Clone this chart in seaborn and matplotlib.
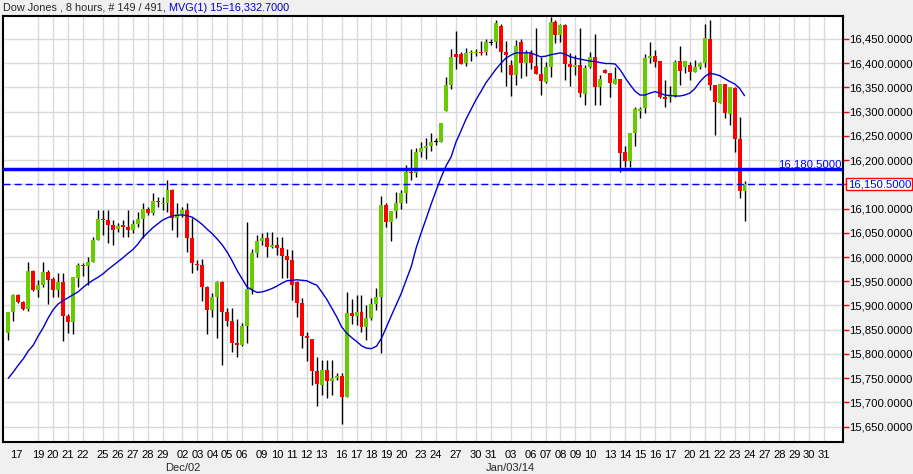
import numpy as np
import pandas as pd
import seaborn as sns
import matplotlib
matplotlib.use("Agg")
import matplotlib.pyplot as plt
from matplotlib.ticker import FuncFormatter
from matplotlib.transforms import blended_transform_factory

# Dow Jones 8-hour candles (149 bars)
opens = [15843, 15887, 15922, 15908, 15893, 15971, 15932, 15942, 15970, 15954,
         15932, 15949, 15879, 15865, 15957, 15983, 15981, 15990, 16036, 16078,
         16076, 16066, 16057, 16066, 16062, 16056, 16069, 16079, 16098, 16091,
         16115, 16109, 16112, 16138, 16080, 16088, 16097, 16040, 15985, 15984,
         15938, 15891, 15918, 15948, 15887, 15867, 15823, 15819, 15858, 15935,
         16009, 16034, 16040, 16021, 16025, 16019, 16003, 15994, 15949, 15906,
         15837, 15830, 15764, 15736, 15767, 15745, 15751, 15755, 15711, 15884,
         15878, 15887, 15856, 15875, 15904, 15917, 16107, 16073, 16095, 16112,
         16131, 16176, 16174, 16217, 16224, 16229, 16238, 16238, 16301, 16355,
         16418, 16418, 16401, 16420, 16420, 16423, 16422, 16442, 16443, 16477,
         16423, 16396, 16375, 16443, 16401, 16420, 16394, 16377, 16361, 16392,
         16485, 16458, 16478, 16399, 16392, 16396, 16337, 16391, 16412, 16350,
         16386, 16380, 16357, 16367, 16217, 16199, 16256, 16302, 16308, 16411,
         16415, 16405, 16329, 16329, 16335, 16404, 16392, 16396, 16382, 16391,
         16401, 16450, 16355, 16318, 16357, 16295, 16348, 16243, 16137]
highs = [15887, 15924, 15924, 15910, 15990, 15973, 15953, 15989, 15973, 15958,
         15968, 15968, 15882, 15958, 15987, 15987, 15999, 16042, 16097, 16097,
         16097, 16076, 16070, 16076, 16096, 16076, 16093, 16111, 16104, 16131,
         16124, 16124, 16159, 16140, 16111, 16103, 16111, 16080, 15994, 15995,
         15940, 15925, 15950, 15950, 15895, 15895, 15872, 15863, 16073, 16016,
         16045, 16049, 16051, 16051, 16042, 16042, 16017, 16014, 15950, 15916,
         15846, 15830, 15793, 15788, 15788, 15788, 15760, 15760, 15928, 15913,
         15922, 15922, 15901, 15915, 15937, 16126, 16111, 16095, 16135, 16138,
         16190, 16222, 16224, 16238, 16245, 16255, 16245, 16276, 16372, 16428,
         16466, 16423, 16430, 16427, 16429, 16445, 16449, 16449, 16489, 16480,
         16445, 16406, 16447, 16449, 16427, 16427, 16472, 16413, 16403, 16495,
         16489, 16480, 16480, 16420, 16417, 16472, 16396, 16423, 16460, 16375,
         16388, 16380, 16391, 16368, 16228, 16256, 16310, 16310, 16419, 16444,
         16427, 16405, 16366, 16353, 16406, 16436, 16404, 16403, 16406, 16403,
         16480, 16489, 16355, 16357, 16357, 16350, 16350, 16288, 16157]
lows = [15829, 15867, 15906, 15891, 15889, 15930, 15917, 15939, 15903, 15918,
        15918, 15827, 15844, 15841, 15939, 15961, 15942, 15990, 16036, 16045,
        16029, 16025, 16052, 16042, 16042, 16050, 16062, 16039, 16087, 16087,
        16104, 16097, 16093, 16056, 16042, 16083, 16011, 15966, 15973, 15910,
        15841, 15877, 15832, 15777, 15858, 15805, 15794, 15816, 15823, 15924,
        15999, 16025, 15999, 16019, 16004, 15956, 15956, 15911, 15876, 15812,
        15786, 15736, 15693, 15715, 15709, 15715, 15746, 15656, 15711, 15861,
        15860, 15846, 15829, 15870, 15891, 15803, 16062, 16032, 16080, 16100,
        16112, 16159, 16166, 16207, 16202, 16219, 16231, 16238, 16301, 16346,
        16388, 16399, 16394, 16404, 16414, 16417, 16417, 16437, 16430, 16382,
        16353, 16332, 16355, 16369, 16373, 16387, 16377, 16334, 16359, 16372,
        16442, 16444, 16365, 16353, 16375, 16329, 16313, 16389, 16313, 16313,
        16380, 16329, 16357, 16176, 16185, 16185, 16229, 16287, 16297, 16401,
        16392, 16327, 16310, 16320, 16330, 16355, 16379, 16366, 16382, 16387,
        16391, 16345, 16252, 16317, 16286, 16272, 16217, 16121, 16075]
closes = [15887, 15922, 15908, 15892, 15971, 15932, 15942, 15970, 15953, 15932,
          15949, 15879, 15865, 15958, 15983, 15982, 15990, 16036, 16078, 16076,
          16066, 16056, 16064, 16062, 16056, 16069, 16079, 16098, 16091, 16115,
          16113, 16112, 16138, 16080, 16088, 16097, 16040, 15987, 15984, 15938,
          15891, 15918, 15948, 15887, 15867, 15823, 15819, 15858, 15935, 16009,
          16034, 16040, 16021, 16025, 16019, 16003, 15994, 15942, 15906, 15837,
          15832, 15764, 15738, 15767, 15745, 15751, 15755, 15712, 15884, 15878,
          15887, 15856, 15875, 15903, 15917, 16107, 16073, 16095, 16112, 16131,
          16175, 16174, 16217, 16224, 16229, 16238, 16238, 16276, 16355, 16413,
          16413, 16399, 16421, 16423, 16423, 16422, 16443, 16442, 16482, 16423,
          16417, 16375, 16435, 16400, 16420, 16401, 16377, 16363, 16392, 16485,
          16458, 16478, 16399, 16392, 16396, 16339, 16390, 16412, 16351, 16367,
          16380, 16359, 16367, 16215, 16199, 16256, 16305, 16305, 16411, 16415,
          16403, 16329, 16327, 16335, 16403, 16384, 16404, 16382, 16391, 16401,
          16452, 16355, 16320, 16357, 16297, 16350, 16243, 16137, 16150.5]
# MVG(1) 15 moving average as drawn (includes bars before the visible window)
ma15 = [15750, 15763, 15777, 15790, 15806, 15818, 15837, 15854, 15874, 15891,
        15903, 15910, 15916, 15922, 15928, 15937, 15945, 15952, 15958, 15965,
        15974, 15982, 15990, 15998, 16007, 16015, 16026, 16040, 16050, 16060,
        16068, 16076, 16081, 16085, 16086, 16087, 16085, 16082, 16075, 16067,
        16057, 16048, 16037, 16025, 16010, 15992, 15972, 15955, 15938, 15932,
        15927, 15928, 15931, 15935, 15940, 15946, 15951, 15952, 15953, 15952,
        15951, 15946, 15942, 15928, 15913, 15895, 15877, 15856, 15843, 15834,
        15826, 15817, 15812, 15811, 15816, 15832, 15855, 15879, 15902, 15925,
        15953, 15980, 16019, 16050, 16079, 16109, 16137, 16164, 16188, 16206,
        16237, 16260, 16284, 16304, 16324, 16341, 16359, 16373, 16387, 16399,
        16410, 16416, 16421, 16421, 16421, 16421, 16417, 16413, 16414, 16417,
        16419, 16421, 16418, 16413, 16410, 16408, 16406, 16404, 16403, 16401,
        16399, 16399, 16398, 16386, 16370, 16355, 16342, 16334, 16334, 16338,
        16341, 16338, 16334, 16333, 16332, 16332, 16334, 16338, 16347, 16361,
        16372, 16379, 16377, 16374, 16368, 16362, 16357, 16348, 16332.7]

day_ticks = [1.5, 6, 9, 12, 15, 19, 22, 25, 28, 31, 35, 38, 41, 44, 47, 51, 54,
             57, 60, 63, 67, 70, 73, 76, 79, 83, 86, 90, 94, 97, 101, 105, 108,
             111, 114, 117, 121, 124, 127, 130, 133, 137, 140, 143, 146, 149,
             152, 155, 158, 161, 164]
day_labels = ["17", "19", "20", "21", "22", "25", "26", "27", "28", "29",
              "02", "03", "04", "05", "06", "09", "10", "11", "12", "13",
              "16", "17", "18", "19", "20", "23", "24", "27", "30", "31",
              "03", "06", "07", "08", "09", "10", "13", "14", "15", "16",
              "17", "20", "21", "22", "23", "24", "27", "28", "29", "30", "31"]
month_labels = ["Dec/02", "Jan/03/14"]
month_pos = [35, 101]
price_ticks = [15650, 15700, 15750, 15800, 15850, 15900, 15950, 16000, 16050,
               16100, 16150, 16200, 16250, 16300, 16350, 16400, 16450]
support_level = 16180.5
last_price = 16150.5

GREEN = "#66cc00"
RED = "#ff0000"
BLUE = "#0000ff"
MA_BLUE = "#0000cc"

sns.set_style("white")
plt.rcParams["font.family"] = ["Liberation Sans", "DejaVu Sans"]

W, H = 913, 474
fig = plt.figure(figsize=(W / 100, H / 100), dpi=100, facecolor="#f0f0f0")
ax = fig.add_axes([3 / W, 1 - 442 / H, 840 / W, 426 / H])
ax.set_facecolor("white")

df = pd.DataFrame({"open": opens, "high": highs, "low": lows,
                   "close": closes, "ma": ma15})
df["idx"] = np.arange(len(df))

# wicks
ax.vlines(df["idx"], df["low"], df["high"], color="black", lw=1.0, zorder=2)

# bodies
diff = (df["close"] - df["open"]).abs()
mid = (df["close"] + df["open"]) / 2
body_h = np.maximum(diff, 2.5)
body_bottom = np.where(diff < 2.5, mid - 1.25, np.minimum(df["open"], df["close"]))
colors = np.where(df["close"] > df["open"], GREEN,
                  np.where(df["close"] < df["open"], RED, "black"))
ax.bar(df["idx"], body_h, bottom=body_bottom, width=0.8, color=colors,
       linewidth=0, zorder=3)

# moving average
sns.lineplot(data=df, x="idx", y="ma", color=MA_BLUE, lw=1.0, ax=ax,
             zorder=4, legend=False)

ax.axhline(support_level, color=BLUE, lw=2.5, zorder=5)
ax.axhline(last_price, color=BLUE, lw=1.0, ls=(0, (5, 3)), zorder=5)

ax.set_xlim(-1.07, 167.8)
ax.set_ylim(15618.5, 16497)

# axes / ticks
ax.set_xticks(day_ticks)
ax.set_xticklabels(day_labels)
ax.set_yticks(price_ticks)
ax.yaxis.set_major_formatter(FuncFormatter(
    lambda v, p: "" if abs(v - 16150) < 1 else f"{v:,.4f}"))
ax.yaxis.tick_right()
ax.tick_params(axis="y", direction="out", color="red", length=4, width=1,
               labelcolor="black", labelsize=8.2, pad=0.5)
ax.tick_params(axis="x", direction="out", color="red", length=4, width=1,
               labelcolor="black", labelsize=8, pad=2)
ax.grid(True, color="#dadada", lw=1)
ax.set_axisbelow(True)
ax.xaxis.get_gridlines()[0].set_visible(False)
ax.set_xlabel("")
ax.set_ylabel("")
for s in ax.spines.values():
    s.set_visible(True)
    s.set_color("black")
    s.set_linewidth(1.5)

bt = blended_transform_factory(ax.transAxes, ax.transData)
ax.text(0.998, support_level, f"{support_level:,.4f}", transform=bt,
        ha="right", va="bottom", color=BLUE, fontsize=8.2, zorder=6)
ax.text(1.0055, last_price, f"{last_price:,.4f}", transform=bt, ha="left",
        va="center", color=BLUE, fontsize=8.2, clip_on=False, zorder=10,
        bbox=dict(boxstyle="square,pad=0.12", fc="white", ec="red", lw=1))

mt = blended_transform_factory(ax.transData, fig.transFigure)
for lab, pos in zip(month_labels, month_pos):
    ax.text(pos, 1 - 468 / H, lab, transform=mt, ha="center", va="center",
            fontsize=8)

# header
t1 = fig.text(3 / W, 1 - 8 / H, "Dow Jones , 8 hours, # 149 / 491",
              fontsize=7.8, ha="left", va="center")
fig.canvas.draw()
bb = t1.get_window_extent()
fig.text(bb.x1 / fig.bbox.width, 1 - 8 / H, f", MVG(1) 15={ma15[-1]:,.4f}",
         fontsize=7.8, ha="left", va="center", color=MA_BLUE)

fig.savefig("out.png", dpi=100, facecolor=fig.get_facecolor())
